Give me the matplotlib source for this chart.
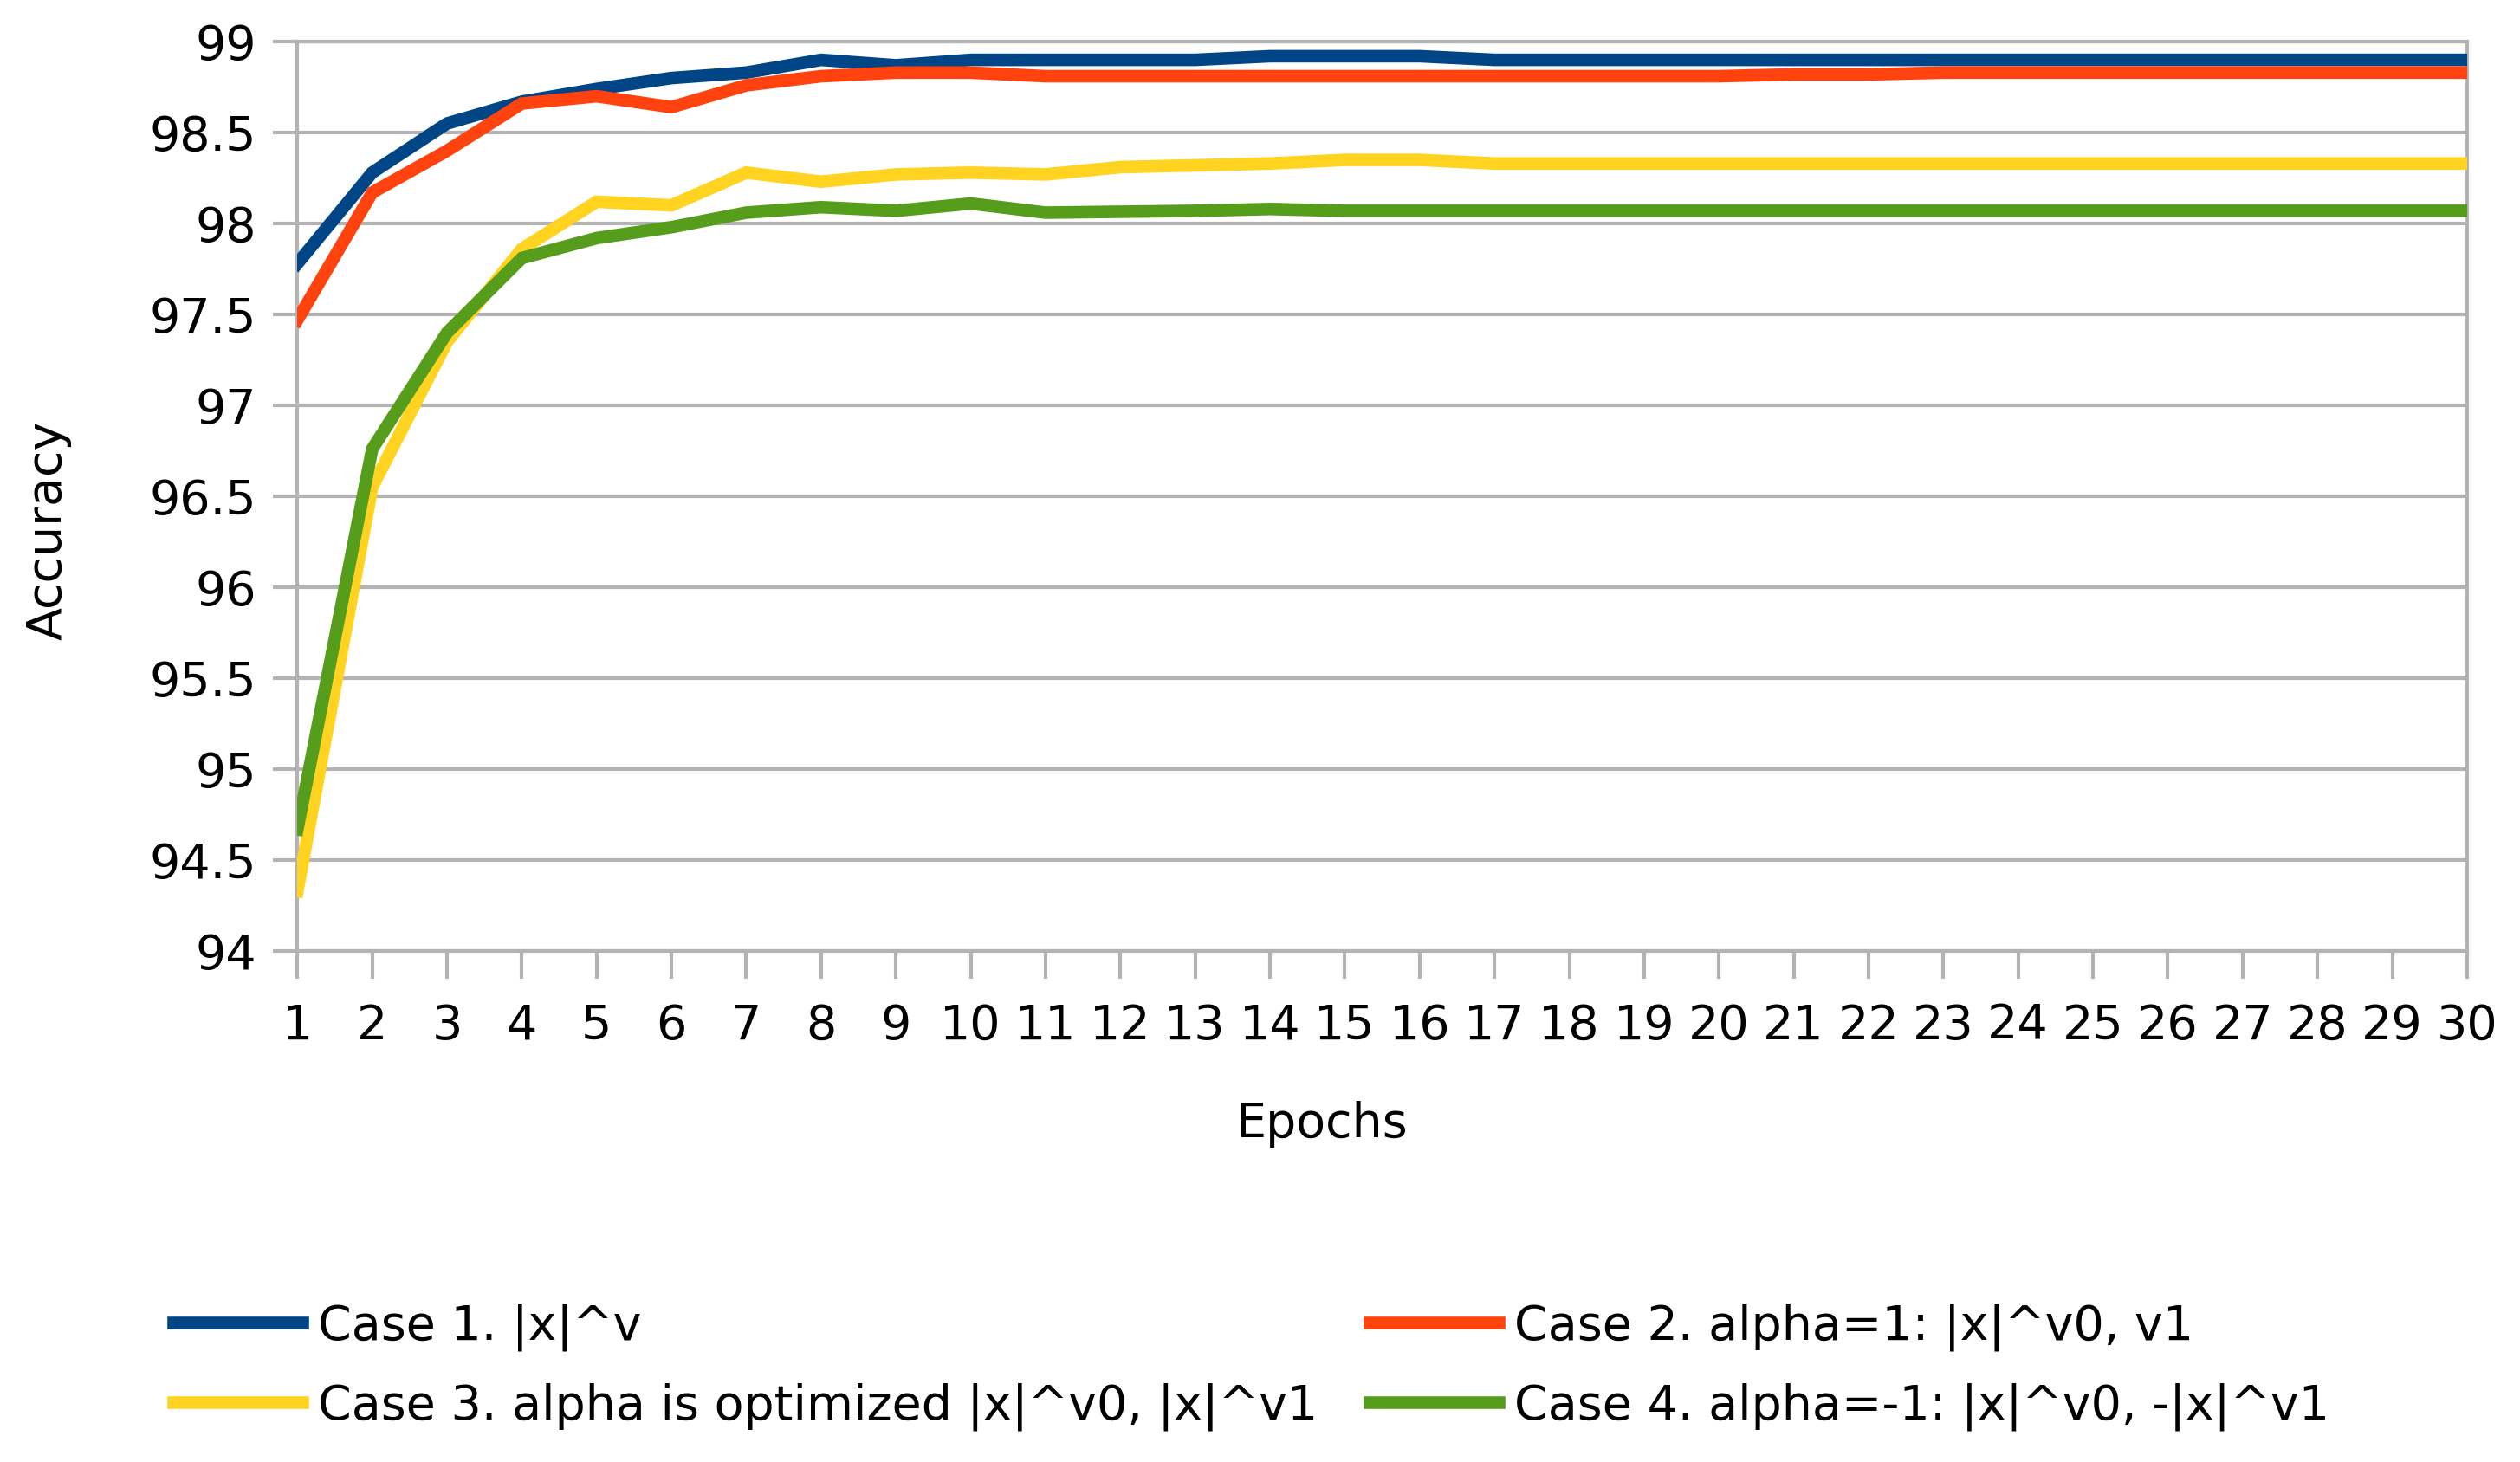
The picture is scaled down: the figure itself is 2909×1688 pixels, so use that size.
import numpy as np
import matplotlib
matplotlib.use("Agg")
import matplotlib.pyplot as plt

# data
epochs = list(range(1, 31))
case1 = [97.78, 98.28, 98.55, 98.67, 98.74, 98.80, 98.83, 98.90, 98.87, 98.90,
         98.90, 98.90, 98.90, 98.92, 98.92, 98.92, 98.90, 98.90, 98.90, 98.90,
         98.90, 98.90, 98.90, 98.90, 98.90, 98.90, 98.90, 98.90, 98.90, 98.90]
case2 = [97.47, 98.17, 98.40, 98.66, 98.70, 98.64, 98.76, 98.81, 98.83, 98.83,
         98.81, 98.81, 98.81, 98.81, 98.81, 98.81, 98.81, 98.81, 98.81, 98.81,
         98.82, 98.82, 98.83, 98.83, 98.83, 98.83, 98.83, 98.83, 98.83, 98.83]
case3 = [94.33, 96.55, 97.35, 97.86, 98.12, 98.10, 98.28, 98.23, 98.27, 98.28,
         98.27, 98.31, 98.32, 98.33, 98.35, 98.35, 98.33, 98.33, 98.33, 98.33,
         98.33, 98.33, 98.33, 98.33, 98.33, 98.33, 98.33, 98.33, 98.33, 98.33]
case4 = [94.67, 96.76, 97.40, 97.81, 97.92, 97.98, 98.06, 98.09, 98.07, 98.11,
         98.06, 98.065, 98.07, 98.08, 98.07, 98.07, 98.07, 98.07, 98.07, 98.07,
         98.07, 98.07, 98.07, 98.07, 98.07, 98.07, 98.07, 98.07, 98.07, 98.07]
labels = [
    "Case 1. |x|^v",
    "Case 2. alpha=1: |x|^v0, v1",
    "Case 3. alpha is optimized |x|^v0, |x|^v1",
    "Case 4. alpha=-1: |x|^v0, -|x|^v1",
]
colors = ["#004586", "#ff420e", "#ffd320", "#579d1c"]
yticks = [94, 94.5, 95, 95.5, 96, 96.5, 97, 97.5, 98, 98.5, 99]

GRID = "#b3b3b3"
FS = 40
plt.rcParams["font.family"] = ["DejaVu Sans"]

fig = plt.figure(figsize=(29.09, 16.88), dpi=100)
ax = fig.add_axes([0.118, 0.3495, 0.861, 0.622])

series = [case1, case2, case3, case4]
lines = []
for vals, lab, col in zip(series, labels, colors):
    ln, = ax.plot(epochs, vals, color=col, lw=10.5, label=lab,
                  solid_joinstyle="miter", zorder=3)
    lines.append(ln)

ax.set_xlim(1, 30)
ax.set_ylim(94, 99)
ax.set_xticks(epochs)
ax.set_yticks(yticks)
ax.set_yticklabels([f"{v:g}" for v in yticks])
ax.grid(axis="y", color=GRID, lw=3, zorder=1)
for s in ax.spines.values():
    s.set_color(GRID)
    s.set_linewidth(3)
ax.tick_params(axis="both", colors=GRID, labelcolor="#000000", width=3,
               labelsize=FS)
ax.tick_params(axis="y", length=20, pad=14)
ax.tick_params(axis="x", length=23, pad=20)

ax.set_xlabel("Epochs", fontsize=FS)
ax.set_ylabel("Accuracy", fontsize=FS)
ax.xaxis.set_label_coords(0.472, -0.19)
ax.xaxis.label.set_va("center")
ax.yaxis.set_label_coords(-0.115, 0.463)
ax.yaxis.label.set_va("center")

# legend is filled row-wise in the reference: case 1 | case 2 / case 3 | case 4
order = [0, 2, 1, 3]
fig.legend(handles=[lines[i] for i in order],
           labels=[labels[i] for i in order],
           ncol=2, frameon=False, fontsize=FS,
           loc="upper left", bbox_to_anchor=(0.0688, 0.109),
           borderpad=0, borderaxespad=0,
           handlelength=2.68, handletextpad=0.33, columnspacing=1.07,
           labelspacing=0.66)

fig.savefig("out.png", dpi=100, facecolor="white")
